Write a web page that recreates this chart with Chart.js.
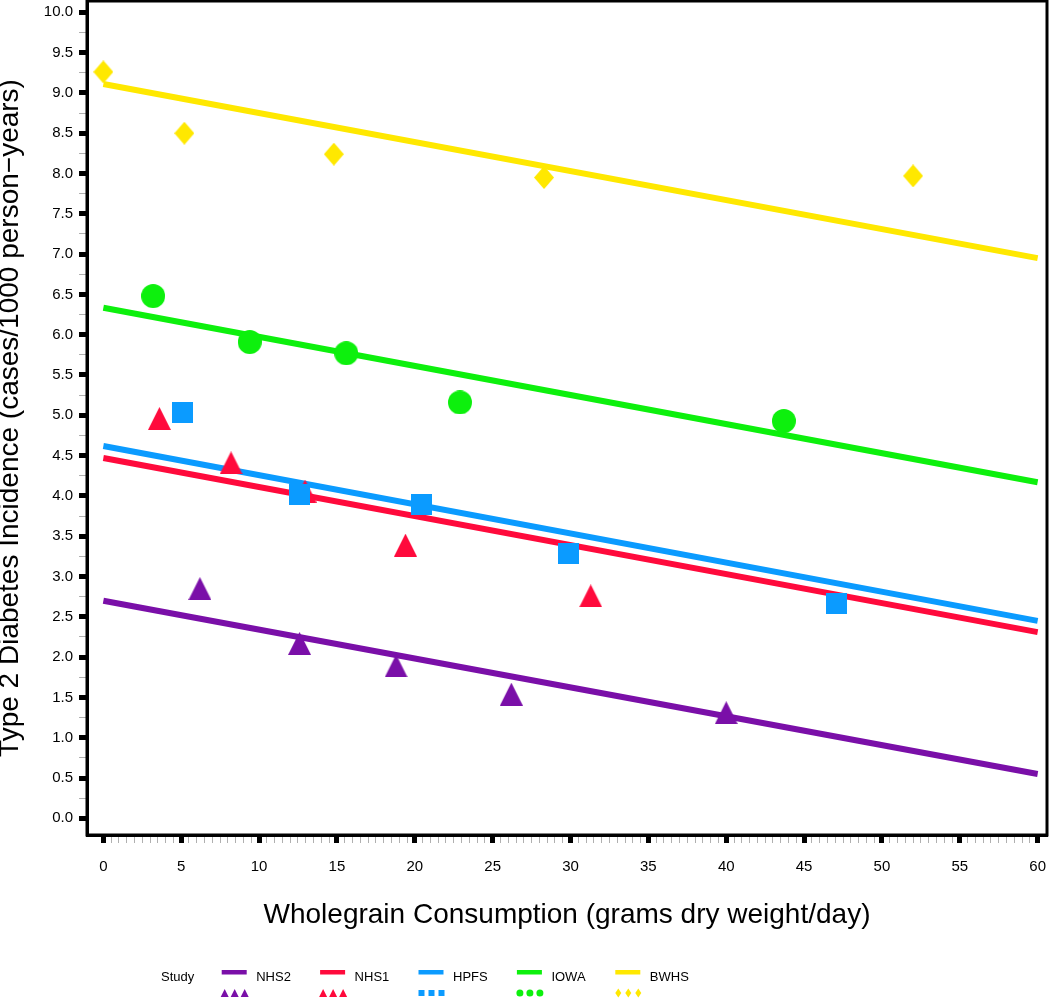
<!DOCTYPE html>
<html lang="en">
<head>
    <meta charset="UTF-8">
    <title>Wholegrain Consumption vs Type 2 Diabetes Incidence</title>
    <script src="https://cdn.jsdelivr.net/npm/chart.js"></script>
    <style>
        html, body { margin: 0; padding: 0; background: #fff; }
        #wrap { width: 1050px; height: 998px; }
    </style>
</head>
<body>
    <div id="wrap"><canvas id="chart" width="1050" height="998"></canvas></div>
    <script>
        // studies and colours
        var studies = ['NHS2', 'NHS1', 'HPFS', 'IOWA', 'BWHS'];
        var colors = ['#7a0fa8', '#ff0a3c', '#0b9bff', '#0df00d', '#ffe800'];
        var shapes = ['triangle', 'triangle', 'square', 'circle', 'diamond'];

        // observed points (x = grams dry weight/day, y = cases/1000 person-years)
        var nhs2X = [6.2, 12.6, 18.8, 26.2, 40.0];
        var nhs2Y = [2.85, 2.17, 1.89, 1.54, 1.31];
        var nhs1X = [3.6, 8.2, 12.95, 19.4, 31.3];
        var nhs1Y = [4.96, 4.41, 4.06, 3.39, 2.76];
        var hpfsX = [5.1, 12.6, 20.4, 29.9, 47.1];
        var hpfsY = [5.03, 4.02, 3.89, 3.29, 2.67];
        var iowaX = [3.2, 9.4, 15.6, 22.9, 43.7];
        var iowaY = [6.48, 5.91, 5.77, 5.16, 4.93];
        var bwhsX = [0.0, 5.2, 14.8, 28.3, 52.0];
        var bwhsY = [9.26, 8.50, 8.24, 7.95, 7.97];

        // fitted lines (end points at x = 0 and x = 60)
        var fitX = [0, 60];
        var nhs2Fit = [2.70, 0.55];
        var nhs1Fit = [4.47, 2.31];
        var hpfsFit = [4.62, 2.45];
        var iowaFit = [6.335, 4.17];
        var bwhsFit = [9.11, 6.95];

        // axis ticks
        var xTicks = [0, 5, 10, 15, 20, 25, 30, 35, 40, 45, 50, 55, 60];
        var yTicks = [0, 0.5, 1, 1.5, 2, 2.5, 3, 3.5, 4, 4.5, 5, 5.5, 6, 6.5, 7, 7.5, 8, 8.5, 9, 9.5, 10];
        var xMinorStep = 0.5;
        var yMinorStep = 0.25;

        var pointsX = [nhs2X, nhs1X, hpfsX, iowaX, bwhsX];
        var pointsY = [nhs2Y, nhs1Y, hpfsY, iowaY, bwhsY];
        var fits = [nhs2Fit, nhs1Fit, hpfsFit, iowaFit, bwhsFit];

        // draw one marker shape into a 2d context
        function shapePath(g, shape, x, y, w, h) {
            g.beginPath();
            if (shape === 'triangle') {
                g.moveTo(x, y - h / 2); g.lineTo(x + w / 2, y + h / 2); g.lineTo(x - w / 2, y + h / 2);
            } else if (shape === 'diamond') {
                g.moveTo(x, y - h / 2); g.lineTo(x + w / 2, y); g.lineTo(x, y + h / 2); g.lineTo(x - w / 2, y);
            } else if (shape === 'square') {
                g.rect(x - w / 2, y - h / 2, w, h);
            } else {
                g.arc(x, y, w / 2, 0, Math.PI * 2);
            }
            g.closePath();
        }
        var markerSize = { triangle: [23, 23], square: [21, 21], circle: [24, 24], diamond: [20, 23] };
        function makeMarker(shape, color) {
            var s = markerSize[shape];
            var c = document.createElement('canvas');
            c.width = s[0]; c.height = s[1];
            var g = c.getContext('2d');
            g.fillStyle = color;
            shapePath(g, shape, s[0] / 2, s[1] / 2, s[0], s[1]);
            g.fill();
            return c;
        }

        function isMajor(v, step) {
            return Math.abs(v / step - Math.round(v / step)) < 1e-6;
        }
        function withMinor(major, step) {
            var out = [];
            for (var i = 0; i < major.length - 1; i++) {
                for (var v = major[i]; v < major[i + 1] - 1e-9; v += step) out.push(+v.toFixed(4));
            }
            out.push(major[major.length - 1]);
            return out;
        }

        var datasets = [];
        // fitted lines first (drawn underneath)
        studies.forEach(function (s, i) {
            datasets.push({
                label: s + ' fit',
                data: fitX.map(function (x, k) { return { x: x, y: fits[i][k] }; }),
                showLine: true,
                borderColor: colors[i],
                borderWidth: 6,
                pointRadius: 0,
                order: 10 + i
            });
        });
        // observed points: later studies drawn on top
        studies.forEach(function (s, i) {
            datasets.push({
                label: s,
                data: pointsX[i].map(function (x, k) { return { x: x, y: pointsY[i][k] }; }),
                showLine: false,
                pointStyle: makeMarker(shapes[i], colors[i]),
                pointRadius: 12,
                pointHoverRadius: 12,
                backgroundColor: colors[i],
                borderColor: colors[i],
                order: 5 - i
            });
        });

        // frame around the plot area
        var framePlugin = {
            id: 'frame',
            afterDraw: function (chart) {
                var a = chart.chartArea, ctx = chart.ctx;
                ctx.save();
                ctx.strokeStyle = '#000';
                ctx.lineWidth = 3;
                ctx.strokeRect(a.left, a.top, a.right - a.left, a.bottom - a.top);
                ctx.restore();
            }
        };

        // legend at the bottom: line sample with three markers underneath
        var legendPlugin = {
            id: 'studyLegend',
            afterDraw: function (chart) {
                var ctx = chart.ctx;
                ctx.save();
                ctx.font = '13px "Liberation Sans", Arial, sans-serif';
                ctx.fillStyle = '#000';
                ctx.textBaseline = 'middle';
                ctx.textAlign = 'left';
                ctx.fillText('Study', 161, 977);
                var small = { triangle: [8, 8], square: [6, 6], circle: [7, 7], diamond: [6, 9] };
                studies.forEach(function (s, i) {
                    var x0 = 221.7 + i * 98.4;
                    ctx.fillStyle = colors[i];
                    ctx.fillRect(x0, 970, 25, 4.5);
                    var sz = small[shapes[i]];
                    [3, 13, 23].forEach(function (dx) {
                        shapePath(ctx, shapes[i], x0 + dx, 993, sz[0], sz[1]);
                        ctx.fill();
                    });
                    ctx.fillStyle = '#000';
                    ctx.fillText(s, x0 + 34.5, 977);
                });
                ctx.restore();
            }
        };

        Chart.defaults.font.family = '"Liberation Sans", Arial, sans-serif';
        Chart.defaults.color = '#000';

        new Chart(document.getElementById('chart'), {
            type: 'scatter',
            data: { datasets: datasets },
            plugins: [framePlugin, legendPlugin],
            options: {
                responsive: false,
                devicePixelRatio: 1,
                animation: false,
                layout: { autoPadding: false, padding: { left: 0, top: 1, right: 3, bottom: 66 } },
                plugins: { legend: { display: false }, tooltip: { enabled: false } },
                scales: {
                    x: {
                        type: 'linear',
                        min: -1.05,
                        max: 60.6,
                        afterBuildTicks: function (scale) {
                            scale.ticks = withMinor(xTicks, xMinorStep).map(function (v) { return { value: v }; });
                        },
                        afterFit: function (scale) {
                            scale.height = 97;
                            scale.paddingLeft = 0;
                            scale.paddingRight = 0;
                        },
                        border: { display: true, color: '#000', width: 3 },
                        grid: {
                            drawOnChartArea: false,
                            tickLength: 8,
                            tickColor: function (c) { return isMajor(c.tick.value, 5) ? '#000' : '#b0b0b0'; },
                            tickWidth: function (c) { return isMajor(c.tick.value, 5) ? 5 : 1; }
                        },
                        ticks: {
                            autoSkip: false,
                            maxRotation: 0,
                            minRotation: 0,
                            padding: 15,
                            font: { size: 15 },
                            callback: function (v) { return isMajor(v, 5) ? String(Math.round(v)) : ''; }
                        },
                        title: {
                            display: true,
                            text: 'Wholegrain Consumption (grams dry weight/day)',
                            font: { size: 28 },
                            padding: { top: 0, bottom: 0 }
                        }
                    },
                    y: {
                        type: 'linear',
                        min: -0.207,
                        max: 10.14,
                        afterBuildTicks: function (scale) {
                            scale.ticks = withMinor(yTicks, yMinorStep).map(function (v) { return { value: v }; });
                        },
                        afterFit: function (scale) {
                            scale.width = 87;
                            scale.paddingTop = 0;
                            scale.paddingBottom = 0;
                        },
                        border: { display: true, color: '#000', width: 3 },
                        grid: {
                            drawOnChartArea: false,
                            tickLength: 8,
                            tickColor: function (c) { return isMajor(c.tick.value, 0.5) ? '#000' : '#b0b0b0'; },
                            tickWidth: function (c) { return isMajor(c.tick.value, 0.5) ? 5 : 1; }
                        },
                        ticks: {
                            autoSkip: false,
                            padding: 6,
                            font: { size: 15 },
                            callback: function (v) { return isMajor(v, 0.5) ? v.toFixed(1) : ''; }
                        },
                        title: {
                            display: true,
                            text: 'Type 2 Diabetes Incidence (cases/1000 person\u2212years)',
                            font: { size: 28, lineHeight: 0.75 },
                            padding: { top: 0, bottom: 0 }
                        }
                    }
                }
            }
        });
    </script>
</body>
</html>
